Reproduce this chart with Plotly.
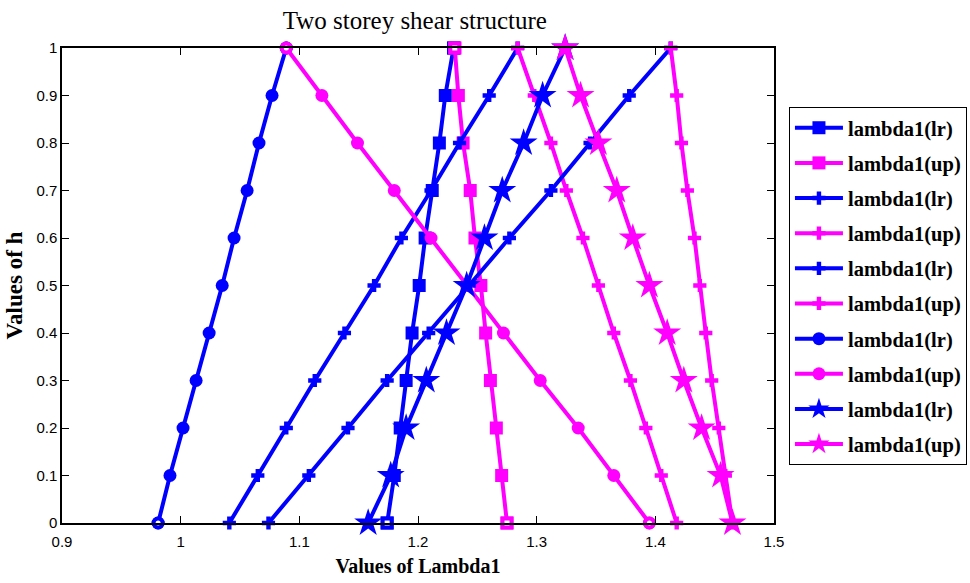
import plotly.graph_objects as go

# Non-dimensional storey parameter h
h_vals = [0.0, 0.1, 0.2, 0.3, 0.4, 0.5, 0.6, 0.7, 0.8, 0.9, 1.0]

# Lambda1 bounds (lower / upper) for each case
lr_square = [1.174, 1.180, 1.185, 1.190, 1.195, 1.201, 1.206, 1.212, 1.218, 1.223, 1.230]
up_square = [1.275, 1.2705, 1.266, 1.261, 1.257, 1.253, 1.248, 1.244, 1.238, 1.234, 1.231]
lr_plus_a = [1.041, 1.065, 1.089, 1.113, 1.138, 1.163, 1.186, 1.211, 1.235, 1.260, 1.284]
up_plus_a = [1.418, 1.405, 1.392, 1.379, 1.365, 1.352, 1.339, 1.325, 1.312, 1.298, 1.284]
lr_plus_b = [1.074, 1.108, 1.141, 1.174, 1.209, 1.243, 1.277, 1.312, 1.345, 1.378, 1.413]
up_plus_b = [1.465, 1.459, 1.4535, 1.4475, 1.4425, 1.4375, 1.433, 1.427, 1.422, 1.418, 1.413]
lr_circle = [0.981, 0.991, 1.002, 1.013, 1.024, 1.035, 1.045, 1.056, 1.066, 1.077, 1.089]
up_circle = [1.395, 1.365, 1.335, 1.303, 1.272, 1.241, 1.211, 1.180, 1.149, 1.119, 1.089]
lr_star = [1.158, 1.177, 1.190, 1.207, 1.224, 1.241, 1.256, 1.271, 1.289, 1.305, 1.324]
up_star = [1.465, 1.455, 1.439, 1.424, 1.410, 1.395, 1.381, 1.3675, 1.352, 1.337, 1.324]

x_ticks = [0.9, 1.0, 1.1, 1.2, 1.3, 1.4, 1.5]
x_ticktext = ["0.9", "1", "1.1", "1.2", "1.3", "1.4", "1.5"]
y_ticks = [0.0, 0.1, 0.2, 0.3, 0.4, 0.5, 0.6, 0.7, 0.8, 0.9, 1.0]
y_ticktext = ["0", "0.1", "0.2", "0.3", "0.4", "0.5", "0.6", "0.7", "0.8", "0.9", "1"]

BLUE = "#0000FF"
MAGENTA = "#FF00FF"

series = [
    ("lambda1(lr)", lr_square, BLUE, "square", 13, True),
    ("lambda1(up)", up_square, MAGENTA, "square", 13, True),
    ("lambda1(lr)", lr_plus_a, BLUE, "cross", 11, False),
    ("lambda1(up)", up_plus_a, MAGENTA, "cross", 11, False),
    ("lambda1(lr)", lr_plus_b, BLUE, "cross", 11, False),
    ("lambda1(up)", up_plus_b, MAGENTA, "cross", 11, False),
    ("lambda1(lr)", lr_circle, BLUE, "circle", 13, True),
    ("lambda1(up)", up_circle, MAGENTA, "circle", 13, True),
    ("lambda1(lr)", lr_star, BLUE, "star", 21, False),
    ("lambda1(up)", up_star, MAGENTA, "star", 21, False),
]

fig = go.Figure()
for i, (name, xs, color, symbol, size, hollow_ends) in enumerate(series):
    group = f"g{i}"
    fig.add_trace(go.Scatter(
        x=xs, y=h_vals, name=name, mode="lines+markers",
        legendgroup=group, cliponaxis=False,
        line=dict(color=color, width=4),
        marker=dict(symbol=symbol, size=size, color=color,
                    line=dict(width=0)),
    ))
    if hollow_ends:
        # end points are drawn as hollow markers
        fig.add_trace(go.Scatter(
            x=[xs[0], xs[-1]], y=[h_vals[0], h_vals[-1]], mode="markers",
            legendgroup=group, showlegend=False, cliponaxis=False,
            marker=dict(symbol=symbol, size=9, color="white",
                        line=dict(color=color, width=4)),
        ))

axis_common = dict(
    showline=True, linecolor="black", linewidth=1.5, mirror="ticks",
    ticks="inside", ticklen=7, tickwidth=1, tickcolor="black",
    showgrid=False, zeroline=False, automargin=False,
    tickfont=dict(family="Liberation Sans, Arial", size=15, color="black"),
)

fig.update_layout(
    width=970, height=583,
    margin=dict(l=62, r=196, t=48, b=60, autoexpand=False),
    paper_bgcolor="white", plot_bgcolor="white",
    title=dict(text="Two storey shear structure", x=0.4955, xref="paper",
               xanchor="center", y=0.965, yref="container", yanchor="middle",
               font=dict(family="Liberation Serif, Times New Roman", size=25,
                         color="black")),
    xaxis=dict(range=[0.9, 1.5], tickvals=x_ticks, ticktext=x_ticktext,
               ticklabelstandoff=4,
               title=dict(text="Values of Lambda1", standoff=10,
                          font=dict(family="Liberation Serif, Times New Roman",
                                    size=20, color="black", weight="bold")),
               **axis_common),
    yaxis=dict(range=[0, 1], tickvals=y_ticks, ticktext=y_ticktext,
               title=dict(text="Values of h", standoff=7,
                          font=dict(family="Liberation Serif, Times New Roman",
                                    size=23, color="black", weight="bold")),
               **axis_common),
    legend=dict(x=1.021, y=0.876, xanchor="left", yanchor="top",
                bgcolor="white", bordercolor="black", borderwidth=1,
                tracegroupgap=5.5, itemwidth=48,
                font=dict(family="Liberation Serif, Times New Roman", size=20.5,
                          color="black", weight="bold")),
    showlegend=True,
)

fig.write_html("out.html")
